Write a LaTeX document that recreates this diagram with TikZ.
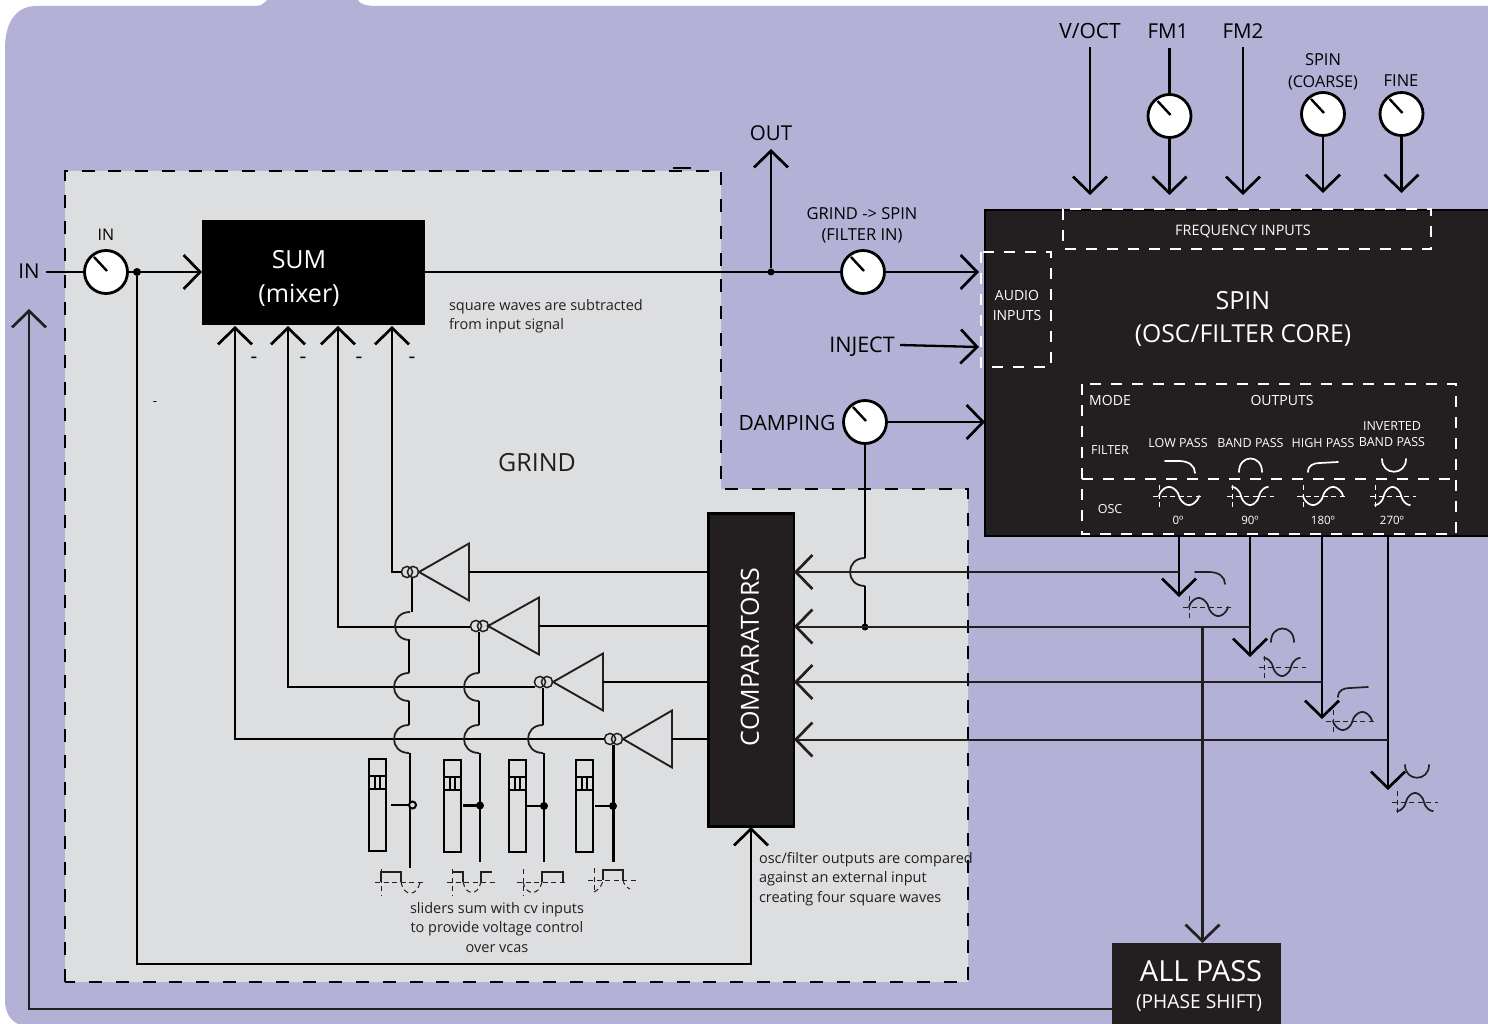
\documentclass[tikz,border=0pt]{standalone}
\usepackage{fontspec}
\setmainfont{Open Sans}
\usetikzlibrary{arrows.meta,calc}
\definecolor{lav}{HTML}{B3B1D6}
\definecolor{greyreg}{HTML}{DDDEE0}
\definecolor{ink}{HTML}{231F20}
\newcommand{\fsz}[1]{\fontsize{#1}{#1}\selectfont}
\tikzset{
  every node/.style={inner sep=0pt,outer sep=0pt},
  wire/.style={line width=2.3pt,draw=black},
  thin wire/.style={line width=2pt,draw=ink},
  arr/.style={-{Straight Barb[length=16.5pt,width=34pt,line width=2.7pt]}},
  lbl/.style={text=black,align=center},
  wlbl/.style={text=white,align=center},
  lnote/.style={text=ink,align=left,anchor=west,font=\fsz{14.5}},
  bdash/.style={draw=black,line width=2.8pt,dash pattern=on 13pt off 13.7pt},
  wdash/.style={draw=white,line width=2.8pt,dash pattern=on 11pt off 10pt},
  knobc/.style={circle,draw=black,fill=white,line width=2.8pt,minimum size=43pt},
  jdot/.style={circle,fill=black,minimum size=8pt},
  vca/.style={draw=ink,line width=1.9pt,line join=miter},
  ring/.style={draw=ink,line width=1.5pt},
  glyphw/.style={draw=white,line width=1.7pt,line cap=round},
  glyphk/.style={draw=ink,line width=1.7pt,line cap=round},
  axis/.style={line width=1pt,dash pattern=on 5pt off 3.5pt},
  slider/.style={draw=black,line width=2.1pt},
}
% #1 name, #2 x, #3 y
\newcommand{\knob}[3]{\node[knobc] (#1) at (#2,#3) {};
  \draw[line width=2.4pt,draw=black] ($(#1)+(-12,-15)$) -- ($(#1)+(1,-1)$);}
% sine glyph: x0, axis y, phase, width, axis left, axis right, colour
\newcommand{\wave}[7]{%
  \draw[axis,draw=#7] (#5,#2) -- (#6,#2);
  \draw[axis,draw=#7] (#1,#2-11) -- (#1,#2+11);
  \draw[#7,line width=1.7pt,line cap=round] plot[smooth,samples=37,domain=0:360,variable=\t] ({#1+\t/360*#4},{#2-9*sign(sin(\t+#3))*pow(abs(sin(\t+#3))+0.001,0.65)});}
% filter glyphs
\newcommand{\lpg}[3]{\draw[#3] (#1,#2) -- (#1+14,#2) .. controls (#1+24,#2) and (#1+30,#2+5) .. (#1+30,#2+12);}
\newcommand{\bpg}[3]{\draw[#3] (#1,#2) .. controls (#1,#2-18) and (#1+23,#2-18) .. (#1+23,#2);}
\newcommand{\hpg}[3]{\draw[#3] (#1,#2) .. controls (#1,#2-7) and (#1+6,#2-9) .. (#1+12,#2-9) -- (#1+30,#2-10);}
\newcommand{\ipg}[3]{\draw[#3] (#1,#2) .. controls (#1,#2+17) and (#1+24,#2+17) .. (#1+24,#2);}
% slider: left x, top y
\newcommand{\sliderbox}[2]{\draw[slider] (#1,#2) rectangle (#1+17,#2+92);
  \draw[slider] (#1,#2+17) rectangle (#1+17,#2+30);
  \draw[line width=1.7pt] (#1+5.7,#2+17) -- (#1+5.7,#2+30) (#1+11.3,#2+17) -- (#1+11.3,#2+30);}
% vertical hop over a horizontal wire at y=#2
\newcommand{\hopover}[2]{\draw[line width=1.8pt,draw=ink] (#1,#2-14) .. controls (#1-20,#2-14) and (#1-20,#2+14) .. (#1,#2+14);}
\begin{document}
\begin{tikzpicture}[x=1pt,y=-1pt]
\useasboundingbox (0,0) rectangle (1488,1024);
\fill[white] (0,0) rectangle (1488,1024);
% background
\fill[lav] (5,48) .. controls (5,25) and (14,7) .. (35,6) -- (255,6)
  .. controls (262,6) and (264,3) .. (267,0) -- (358,0)
  .. controls (360,4) and (365,6) .. (378,6) -- (1488,6) -- (1488,1024) -- (18,1024)
  .. controls (10,1020) and (5,1012) .. (5,1000) -- cycle;
% grind region
\fill[greyreg] (65,171) -- (721,171) -- (721,489) -- (968,489) -- (968,982) -- (65,982) -- cycle;
\draw[bdash] (65,982) -- (65,171) -- (721,171) -- (721,489) -- (968,489) -- (968,982) -- cycle;
\draw[line width=2.6pt] (673,168) -- (691,168);

% dark boxes
\node[fill=black,minimum width=223pt,minimum height=105pt] (sum) at (313.5,272.5) {};
\node[fill=ink,draw=black,line width=2.4pt,minimum width=85.5pt,minimum height=313pt] (comp) at (751.2,670) {};
\node[fill=ink,draw=black,line width=2pt,minimum width=504pt,minimum height=326pt] (spin) at (1237,373) {};
\node[fill=ink,minimum width=169pt,minimum height=81pt] (allpass) at (1196.5,983.5) {};

% named free ends
\coordinate (inS) at (46,272);
\coordinate (outT) at (771,149);
\coordinate (audioA) at (979,272);
\coordinate (audioB) at (979,347);
\coordinate (injS) at (900,345);
\coordinate (dampE) at (985,422);
\coordinate (fbT) at (29,309);
\coordinate (apOut) at (1112,1009);
\coordinate (fbC) at (29,1009);

% knobs
\knob{kin}{106}{272}
\knob{kfm}{1169.5}{116}
\knob{kspin}{1323}{114}
\knob{kfine}{1401.5}{114}
\knob{kgrind}{863}{272}
\knob{kdamp}{865}{422}

% main audio path
\node[jdot] (jin) at (137,272) {};
\node[jdot,minimum size=7pt] (jout) at (771,272) {};
\draw[wire] (inS) -- (kin.west);
\draw[wire,arr] (kin.east) -- (202,272);
\draw[wire] (425,272) -- (kgrind.west);
\draw[wire,arr] (jout) -- (outT);
\draw[wire,arr] (kgrind.east) -- (audioA);
\draw[wire,arr] (injS) -- (audioB);
\draw[wire,arr] (kdamp.east) -- (dampE);
\draw[wire,arr] (jin) -- (137,964) -- (751,964) -- (751,827);

% frequency inputs
\coordinate (voct) at (1090,47);
\coordinate (fm1) at (1169.5,48);
\coordinate (fm2) at (1243,47);
\draw[wire,arr] (voct) -- (1090,195);
\draw[wire] (fm1) -- (kfm.north);
\draw[wire,arr] (kfm.south) -- (1169.5,195);
\draw[wire,arr] (fm2) -- (1243,195);
\draw[wire,arr] (kspin.south) -- (1323,193);
\draw[wire,arr] (kfine.south) -- (1401.5,193);

% damping hop
\node[circle,fill=black,minimum size=7pt] (jdamp) at (865,627) {};
\draw[wire] (kdamp.south) -- (865,558);
\hopover{865}{572}
\draw[wire] (865,586) -- (jdamp);

% outputs and comparator feeds
\coordinate (o1) at (1179,536);
\coordinate (o2) at (1250,536);
\coordinate (o3) at (1322,536);
\coordinate (o4) at (1388,536);
\draw[wire,arr] (o1) -- (1179,597);
\draw[thin wire,arr] (1179,572) -- (794,572);
\draw[wire,arr] (o2) -- (1250,657);
\draw[thin wire,arr] (1250,626.5) -- (794,626.5);
\draw[wire,arr] (o3) -- (1322,719);
\draw[thin wire,arr] (1322,682) -- (794,682);
\draw[wire,arr] (o4) -- (1388,790);
\draw[thin wire,arr] (1388,739.5) -- (794,739.5);
\draw[wire,arr,draw=ink] (1202.5,627) -- (allpass.north -| 1202.5,0);

% feedback
\draw[wire,arr,draw=ink] (apOut) -- (fbC) -- (fbT);

% VCAs: tip x, y, right x
\foreach \n/\tx/\ty/\rx/\ca/\cb in {1/419/572/469/407/413,2/488/626/539/476/483,3/553/682/603/540/547,4/623/739/672/610/617}{
  \draw[vca] (\tx,\ty) -- (\rx,\ty-28.5) -- (\rx,\ty+28.5) -- cycle;
  \draw[ring] (\ca,\ty) circle (5.6);
  \draw[ring] (\cb,\ty) circle (5.6);
  \draw[wire] (\rx,\ty) -- (708,\ty);
}
% sum inputs
\draw[wire,arr] (401,572) -- (392,572) -- (392,326);
\draw[wire,arr] (470,627) -- (338,627) -- (338,326);
\draw[wire,arr] (535,687) -- (288,687) -- (288,326);
\draw[wire,arr] (604,739) -- (235,739) -- (235,326);

% cv lines with hops
\draw[wire] (412,578) -- (412,612);
\hopover{410}{626}
\draw[wire] (409,640) -- (409,673);
\hopover{409}{687}
\draw[wire] (409,701) -- (409,725);
\hopover{409}{739}
\draw[wire] (410,753) -- (410,868);
\draw[wire] (479,632) -- (479,673);
\hopover{479}{687}
\draw[wire] (479,701) -- (479,725);
\hopover{479}{739}
\draw[wire] (480,753) -- (480,862);
\draw[wire] (543,688) -- (543,725);
\hopover{543}{739}
\draw[wire] (544,753) -- (544,862);
\draw[wire] (613.5,745) -- (613.5,862);

% sliders
\sliderbox{369}{759}
\sliderbox{444}{760}
\sliderbox{509}{760}
\sliderbox{576}{760}
\draw[wire] (391,805) -- (412,805);
\node[circle,draw=black,fill=greyreg,line width=2pt,minimum size=7pt] (d1) at (412.5,805) {};
\draw[wire] (463,805.5) -- (480,805.5);
\node[circle,fill=black,minimum size=8pt] (d2) at (480,805.5) {};
\draw[wire] (527,806) -- (544,806);
\node[circle,fill=black,minimum size=8pt] (d3) at (544,806) {};
\draw[wire] (595,806) -- (613,806);
\node[circle,fill=black,minimum size=8pt] (d4) at (613,806) {};

% square wave glyphs
\tikzset{sq/.style={draw=ink,line width=2.3pt},sqd/.style={draw=ink,line width=1pt,dash pattern=on 5pt off 3.5pt}}
\draw[sqd] (375,882) -- (425,882) (381,869) -- (381,895);
\draw[sq] (381,882) -- (381,872) -- (401,872) -- (401,882);
\draw[sqd] (401,882) .. controls (404,897) and (417,897) .. (420,882);
\draw[sqd] (447,882) -- (496,882) (452,869) -- (452,895);
\draw[sq] (452,872) -- (463,872) -- (463,882);
\draw[sqd] (463,882) .. controls (466,896) and (478,896) .. (481,882);
\draw[sq] (481,882) -- (481,872) -- (492,872);
\draw[sqd] (517,882) -- (567,882) (523,869) -- (523,895);
\draw[sqd] (523,882) .. controls (526,896) and (539,896) .. (542,882);
\draw[sq] (542,882) -- (542,872) -- (563,872) -- (563,882);
\draw[sqd] (588,880) -- (638,880) (594,868) -- (594,893);
\draw[sq] (603,880) -- (603,870) -- (623,870) -- (623,880);
\draw[sqd] (594,892) .. controls (600,889) and (602,885) .. (603,880);
\draw[sqd] (623,880) .. controls (624,885) and (626,887) .. (630,889);

% inner dashed frames
\draw[wdash] (1063,209) rectangle (1431,249);
\draw[wdash] (981,252) rectangle (1051,367);
\draw[wdash] (1082,384) rectangle (1456,534);
\draw[wdash] (1082,479) -- (1456,479);

% panel glyphs
\lpg{1165}{461}{glyphw}
\bpg{1239}{472}{glyphw}
\hpg{1308}{472}{glyphw}
\ipg{1382}{459}{glyphw}
\wave{1159}{496}{0}{40}{1153}{1203}{white}
\wave{1232}{496}{90}{36}{1227}{1274}{white}
\wave{1303}{496}{180}{40}{1297}{1347}{white}
\wave{1375}{496}{270}{35}{1370}{1416}{white}
% outer glyphs
\lpg{1195}{572}{glyphk}
\bpg{1271}{642}{glyphk}
\hpg{1338}{697}{glyphk}
\ipg{1405}{765}{glyphk}
\wave{1189}{607}{0}{39}{1183}{1233}{ink}
\wave{1264}{667}{90}{36}{1259}{1306}{ink}
\wave{1333}{721}{180}{39}{1326}{1377}{ink}
\wave{1397}{802}{270}{36}{1392}{1438}{ink}

% labels
\node[lbl,font=\fsz{20.5}] (tIN) at (29,271) {IN};
\node[lbl,font=\fsz{16}] (tINs) at (106,235) {IN};
\node[wlbl,font=\fsz{25}] (tSUM) at (299,260) {SUM};
\node[wlbl,font=\fsz{25}] (tMIX) at (299,295) {(mixer)};
\node[lnote] (n1a) at (449,307) {square waves are subtracted};
\node[lnote] (n1b) at (449,326) {from input signal};
\foreach \x in {254,303,359,412}{\node[lbl,font=\fsz{21}] at (\x,360) {-};}
\node[lbl,font=\fsz{13}] (tdot) at (155,404) {-};
\node[lbl,font=\fsz{25},text=ink] (tGRIND) at (537,463) {GRIND};
\node[lbl,font=\fsz{20.5}] (tOUT) at (771,133) {OUT};
\node[lbl,font=\fsz{16.5}] (tG1) at (862,214) {GRIND -> SPIN};
\node[lbl,font=\fsz{16.5}] (tG2) at (862,236) {(FILTER IN)};
\node[lbl,font=\fsz{21.5}] (tINJ) at (862,347) {INJECT};
\node[lbl,font=\fsz{21}] (tDAMP) at (787,423) {DAMPING};
\node[lbl,font=\fsz{21}] (tV) at (1090,31) {V/OCT};
\node[lbl,font=\fsz{20.5}] (tF1) at (1168,31) {FM1};
\node[lbl,font=\fsz{20.5}] (tF2) at (1243,31) {FM2};
\node[lbl,font=\fsz{16.5}] (tS1) at (1323,60) {SPIN};
\node[lbl,font=\fsz{16.2}] (tS2) at (1323,83) {(COARSE)};
\node[lbl,font=\fsz{16.5}] (tFINE) at (1401,81) {FINE};
\node[wlbl,font=\fsz{14.4}] (tFREQ) at (1243,232) {FREQUENCY INPUTS};
\node[wlbl,font=\fsz{14}] (tA1) at (1017,295) {AUDIO};
\node[wlbl,font=\fsz{14}] (tA2) at (1017,315) {INPUTS};
\node[wlbl,font=\fsz{25}] (tSP) at (1243,301) {SPIN};
\node[wlbl,font=\fsz{24.7}] (tSP2) at (1243,335) {(OSC/FILTER CORE)};
\node[wlbl,font=\fsz{14}] (tMODE) at (1110,400) {MODE};
\node[wlbl,font=\fsz{14}] (tOUTS) at (1282,400) {OUTPUTS};
\node[wlbl,font=\fsz{12.5}] (tFILT) at (1110,450) {FILTER};
\node[wlbl,font=\fsz{12.5}] (tOSC) at (1110,509) {OSC};
\node[wlbl,font=\fsz{12.5}] (tLP) at (1178,443) {LOW PASS};
\node[wlbl,font=\fsz{12.5}] (tBP) at (1250.5,443) {BAND PASS};
\node[wlbl,font=\fsz{12.5}] (tHP) at (1323,443) {HIGH PASS};
\node[wlbl,font=\fsz{12.5}] (tIB1) at (1392,426) {INVERTED};
\node[wlbl,font=\fsz{12.5}] (tIB2) at (1392,442) {BAND PASS};
\node[wlbl,font=\fsz{11.5}] (t0) at (1178,520) {0º};
\node[wlbl,font=\fsz{11.5}] (t90) at (1250,520) {90º};
\node[wlbl,font=\fsz{11.5}] (t180) at (1323,520) {180º};
\node[wlbl,font=\fsz{11.5}] (t270) at (1392,520) {270º};
\node[wlbl,font=\fsz{25},rotate=90] (tCOMP) at (750,657) {COMPARATORS};
\node[lbl,font=\fsz{14.5},text=ink] (n2a) at (497,910) {sliders sum with cv inputs};
\node[lbl,font=\fsz{14.5},text=ink] (n2b) at (497,929) {to provide voltage control};
\node[lbl,font=\fsz{14.5},text=ink] (n2c) at (497,949) {over vcas};
\node[lnote] (n3a) at (759,860) {osc/filter outputs are compared};
\node[lnote] (n3b) at (759,879) {against an external input};
\node[lnote] (n3c) at (759,899) {creating four square waves};
\node[wlbl,font=\fsz{29}] (tAP1) at (1201,971) {ALL PASS};
\node[wlbl,font=\fsz{19.2}] (tAP2) at (1199,1003) {(PHASE SHIFT)};
\end{tikzpicture}
\end{document}
